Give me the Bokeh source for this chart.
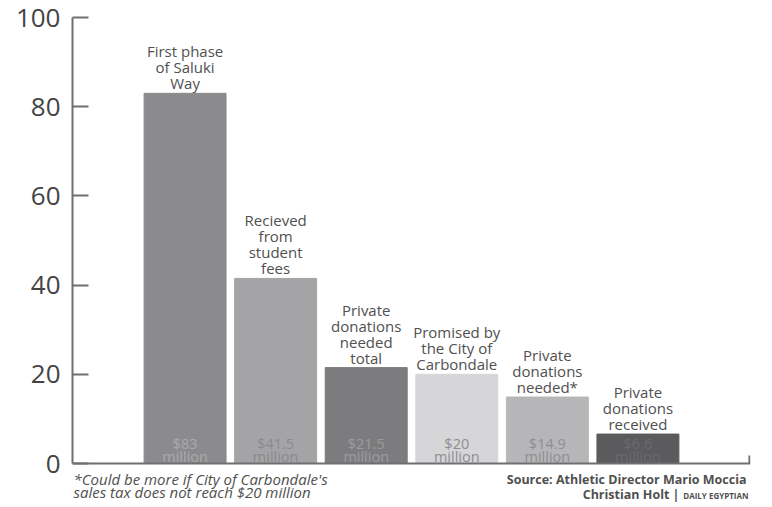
from bokeh.plotting import figure
from bokeh.models import ColumnDataSource, Range1d, FixedTicker, Span
from bokeh.core.properties import value
from bokeh.embed import file_html
from bokeh.resources import INLINE

categories = ["First phase\nof Saluki\nWay", "Recieved\nfrom\nstudent\nfees",
              "Private\ndonations\nneeded\ntotal", "Promised by\nthe City of\nCarbondale",
              "Private\ndonations\nneeded*", "Private\ndonations\nreceived"]
amounts = [83, 41.5, 21.5, 20, 14.9, 6.6]
amount_labels = ["$83\nmillion", "$41.5\nmillion", "$21.5\nmillion", "$20\nmillion",
                 "$14.9\nmillion", "$6.6\nmillion"]
bar_colors = ["#8b8b8d", "#a4a4a6", "#7c7c7e", "#d6d6d8", "#b6b6b8", "#5b5b5d"]
value_text_colors = ["#a9a9ab", "#8a8a8c", "#9c9c9e", "#8e8e90", "#8e8e90", "#6a6a6c"]
y_ticks = [0, 20, 40, 60, 80, 100]
footnote_lines = ["*Could be more if City of Carbondale's", "sales tax does not reach $20 million"]
source_line = "Source: Athletic Director Mario Moccia"
credit_name = "Christian Holt |"
credit_paper = "DAILY EGYPTIAN"

FONT = "Open Sans"
AXIS_COLOR = "#6f6f71"
TEXT_COLOR = "#505050"

# layout geometry (pixels)
W, H = 772, 507
FRAME_L, FRAME_R = 72, 750
Y100_PX, Y0_PX = 17, 463
y_per_px = 100.0 / (Y0_PX - Y100_PX)
y_bottom = -(H - Y0_PX) * y_per_px

xs = list(range(len(amounts)))
x0, x1 = -1.243, len(amounts) - 1 + 1.243
x_per_px = (x1 - x0) / (FRAME_R - FRAME_L)


def dx(px):
    return x0 + (px - FRAME_L) * x_per_px


def dy(py):
    return (Y0_PX - py) * y_per_px


src = ColumnDataSource(dict(x=xs, top=amounts, color=bar_colors, cat=categories,
                            amt=amount_labels, tcol=value_text_colors))

p = figure(width=W, height=H, output_backend="svg", toolbar_location=None,
           x_range=Range1d(x0, x1), y_range=Range1d(y_bottom, 100),
           x_axis_location=None,
           min_border_left=FRAME_L, min_border_right=W - FRAME_R,
           min_border_top=Y100_PX, min_border_bottom=0)
p.outline_line_color = None
p.grid.visible = False

p.vbar(x="x", top="top", bottom=0, width=0.905, color="color", source=src)

p.text(x="x", y="top", text="cat", source=src, text_align="center", text_baseline="bottom",
       text_font=value(FONT), text_font_size="15px", text_color=TEXT_COLOR,
       text_line_height=0.8, y_offset=0)
p.text(x="x", y=0, text="amt", source=src, text_align="center", text_baseline="bottom",
       text_font=value(FONT), text_font_size="14.5px", text_color="tcol",
       text_line_height=0.69, y_offset=3)

# baseline and its right end cap
p.add_layout(Span(location=0, dimension="width", line_color=AXIS_COLOR, line_width=2))
p.segment(x0=[x1 - 0.012], y0=[0], x1=[x1 - 0.012], y1=[1.8], line_color=AXIS_COLOR, line_width=2)

p.yaxis.ticker = FixedTicker(ticks=y_ticks)
p.yaxis.bounds = (0, 100)
p.yaxis.axis_line_color = AXIS_COLOR
p.yaxis.axis_line_width = 2
p.yaxis.major_tick_line_color = AXIS_COLOR
p.yaxis.major_tick_line_width = 2
p.yaxis.major_tick_in = 16
p.yaxis.major_tick_out = 0
p.yaxis.minor_tick_line_color = None
p.yaxis.major_label_text_font = FONT
p.yaxis.major_label_text_font_size = "26px"
p.yaxis.major_label_text_color = "#444444"
p.yaxis.major_label_standoff = 12

# footer texts
p.text(x=[dx(73)] * 2, y=[dy(478), dy(491)], text=footnote_lines, text_align="left",
       text_baseline="middle", text_font=value(FONT), text_font_style="italic",
       text_font_size="15px", text_color=TEXT_COLOR)
p.text(x=[dx(746)], y=[dy(479)], text=[source_line], text_align="right", text_baseline="middle",
       text_font=value(FONT), text_font_style="bold", text_font_size="12.5px",
       text_color=TEXT_COLOR)
p.text(x=[dx(679)], y=[dy(494)], text=[credit_name], text_align="right", text_baseline="middle",
       text_font=value(FONT), text_font_style="bold", text_font_size="12.5px",
       text_color=TEXT_COLOR)
p.text(x=[dx(748)], y=[dy(495)], text=[credit_paper], text_align="right", text_baseline="middle",
       text_font=value(FONT), text_font_style="bold", text_font_size="8px",
       text_color=TEXT_COLOR)

open("out.html", "w").write(file_html(p, INLINE))
